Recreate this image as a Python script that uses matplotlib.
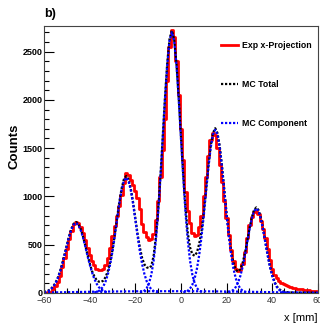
import numpy as np
import matplotlib
matplotlib.use("Agg")
import matplotlib.pyplot as plt
from matplotlib.ticker import MultipleLocator

plt.rcParams["font.family"] = ["Liberation Sans", "DejaVu Sans"]

# bin centres in mm
X = np.arange(-60, 61)

# experimental x-projection (counts per 1 mm bin)
EXP = [0, 2, 5, 12, 40, 70, 115, 180, 265, 360,
       460, 560, 645, 710, 740, 725, 685, 620, 545, 465,
       395, 335, 285, 252, 240, 236, 248, 285, 360, 470,
       590, 690, 800, 900, 1010, 1140, 1240, 1220, 1170, 1120,
       1060, 980, 870, 710, 630, 575, 550, 555, 615, 760,
       950, 1200, 1480, 1800, 2200, 2550, 2720, 2650, 2400, 2050,
       1700, 1380, 1050, 850, 720, 620, 585, 600, 680, 800,
       1000, 1200, 1420, 1580, 1660, 1640, 1500, 1330, 1150, 950,
       780, 600, 450, 330, 250, 225, 240, 300, 420, 570,
       700, 790, 835, 845, 815, 750, 660, 570, 460, 340,
       250, 190, 150, 125, 105, 90, 78, 68, 60, 55,
       50, 46, 42, 38, 34, 30, 27, 24, 20, 17, 15]

MC_TOTAL = [10, 15, 26, 42, 67, 104, 155, 223, 305, 399,
            497, 590, 666, 716, 735, 717, 667, 592, 500, 403,
            310, 228, 175, 135, 117, 115, 128, 165, 230, 320,
            445, 603, 774, 942, 1083, 1178, 1211, 1178, 1083, 943,
            776, 610, 470, 360, 295, 265, 258, 280, 380, 575,
            850, 1206, 1614, 2027, 2386, 2631, 2718, 2631, 2386, 2030,
            1620, 1225, 880, 620, 470, 400, 385, 420, 510, 640,
            835, 1066, 1310, 1517, 1656, 1706, 1656, 1517, 1308, 1065,
            821, 603, 430, 310, 240, 222, 245, 310, 409, 535,
            663, 779, 858, 886, 858, 777, 661, 526, 394, 277,
            183, 115, 68, 40, 23, 14, 9, 7, 6, 5,
            5, 5, 5, 4, 4, 4, 4, 3, 3, 3, 3]

# MC components: first bin (mm) and values per 1 mm bin
COMP_START = [-60, -38, -18, 1, 19]
COMP_VALUES = [
    [6, 11, 21, 37, 61, 98, 149, 216, 298, 391, 489, 581, 657, 707, 725,
     707, 657, 581, 489, 391, 298, 216, 149, 98, 61, 37, 21, 11, 6],
    [5, 10, 20, 39, 70, 120, 195, 298, 430, 588, 759, 926, 1067, 1162, 1195,
     1162, 1067, 926, 759, 588, 430, 298, 195, 120, 70, 39, 20, 10, 5],
    [4, 11, 24, 50, 101, 188, 329, 540, 826, 1188, 1596, 2009, 2368, 2613, 2700,
     2613, 2368, 2009, 1596, 1188, 826, 540, 329, 188, 101, 50, 24, 11, 4],
    [5, 11, 23, 46, 86, 152, 252, 394, 580, 803, 1049, 1293, 1501, 1640, 1690,
     1640, 1501, 1293, 1049, 803, 580, 394, 252, 152, 86, 46, 23, 11, 5],
    [1, 3, 8, 16, 33, 61, 107, 175, 268, 385, 517, 651, 767, 847, 875,
     847, 767, 651, 517, 385, 268, 175, 107, 61, 33, 16, 8, 3, 1],
]

# flat background component
BG_X = [-60, -55, -50, -45, -40, -35, -30, -25, -20, -15, -10, -5, 0,
        5, 10, 15, 20, 25, 30, 35, 40, 45, 50, 55, 60]
BG = [4, 6, 8, 10, 12, 14, 15, 16, 17, 18, 18, 18, 18,
      18, 17, 16, 15, 14, 12, 10, 8, 6, 5, 4, 3]

DOT = (0, (1, 0.8))

fig = plt.figure(figsize=(3.2, 3.23), dpi=100)
ax = fig.add_axes([0.1375, 0.093, 0.856, 0.8265])

h_exp, = ax.plot(X, EXP, drawstyle="steps-mid", color="#ff0000", lw=2.0,
                 label="Exp x-Projection")
h_tot, = ax.plot(X, MC_TOTAL, color="black", lw=1.6, ls=DOT, label="MC Total")
h_comp = None
for start, vals in zip(COMP_START, COMP_VALUES):
    xs = np.arange(start, start + len(vals))
    h_comp, = ax.plot(xs, vals, color="#0000ff", lw=1.6, ls=DOT, label="MC Component")
ax.plot(BG_X, BG, color="#0000ff", lw=1.6, ls=DOT)

ax.set_xlim(-60, 60)
ax.set_ylim(0, 2765)

ax.xaxis.set_major_locator(MultipleLocator(20))
ax.xaxis.set_minor_locator(MultipleLocator(5))
ax.yaxis.set_major_locator(MultipleLocator(500))
ax.yaxis.set_minor_locator(MultipleLocator(100))
ax.tick_params(which="both", direction="in", top=False, right=False, width=0.8)
ax.tick_params(which="major", length=7)
ax.tick_params(which="minor", length=3.5)
ax.tick_params(axis="x", labelsize=6.5, labelcolor="#333333", pad=2)
ax.tick_params(axis="y", labelsize=6.5, pad=1)
for lab in ax.get_yticklabels():
    lab.set_fontweight("bold")
for s in ax.spines.values():
    s.set_linewidth(0.8)
    s.set_color("#444444")

ax.set_ylabel("Counts", fontsize=9.5, fontweight="bold", labelpad=4)
ax.yaxis.set_label_coords(-0.085, 0.55)
ax.text(1.0, -0.075, "x [mm]", transform=ax.transAxes, ha="right", va="top",
        fontsize=8)
fig.text(0.1375, 0.975, "b)", ha="left", va="top", fontsize=9, fontweight="bold")

ax.legend(handles=[h_exp, h_tot, h_comp], loc="upper left",
          bbox_to_anchor=(0.645, 0.944), frameon=False,
          handlelength=2.0, handletextpad=0.45, labelspacing=3.45,
          borderpad=0, borderaxespad=0, prop={"weight": "bold", "size": 6.3})

fig.savefig("out.png", dpi=100)
